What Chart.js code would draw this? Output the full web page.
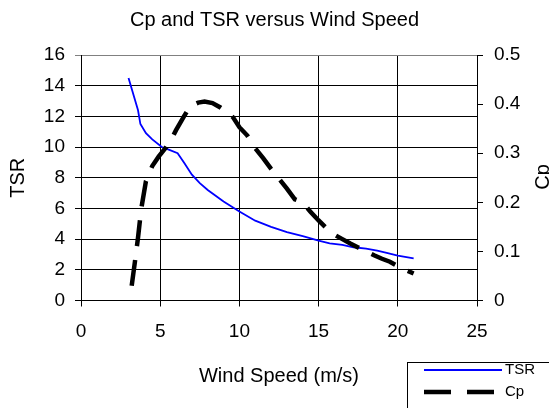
<!DOCTYPE html>
<html>
<head>
<meta charset="utf-8">
<script src="https://cdn.jsdelivr.net/npm/chart.js@4/dist/chart.umd.min.js"></script>
<style>
  html, body { margin: 0; padding: 0; background: #fff; }
  #wrap { position: relative; width: 549px; height: 408px; }
</style>
</head>
<body>
<div id="wrap"><canvas id="cpTsrChart" width="549" height="408"></canvas></div>
<script>
const FONT = "'Liberation Sans', Arial, sans-serif";

// TSR curve (left axis)
const tsrWind = [3.0, 3.6, 3.75, 4.1, 4.5, 5.1, 5.5, 6.1, 6.5, 7.0, 7.5, 8.0, 9.0, 10.0, 11.0, 12.0, 13.0, 14.0, 15.0, 15.7, 16.5, 17.2, 18.0, 18.7, 19.3, 20.0, 21.0];
const tsrValues = [14.5, 12.4, 11.5, 10.9, 10.5, 10.0, 9.85, 9.6, 9.0, 8.2, 7.65, 7.2, 6.45, 5.8, 5.2, 4.8, 4.45, 4.2, 3.9, 3.73, 3.62, 3.47, 3.38, 3.25, 3.1, 2.92, 2.75];

// Cp curve (right axis)
const cpWind = [3.2, 3.4, 3.6, 3.8, 4.1, 4.5, 4.9, 5.3, 5.7, 6.0, 6.5, 6.9, 7.4, 7.8, 8.3, 8.8, 9.3, 9.6, 10.0, 10.5, 11.0, 11.5, 12.0, 12.5, 13.0, 13.5, 14.0, 14.5, 15.0, 15.5, 16.0, 16.5, 17.0, 17.5, 18.0, 18.5, 19.0, 19.5, 20.0, 20.5, 21.0];
const cpValues = [0.03, 0.078, 0.128, 0.186, 0.243, 0.274, 0.293, 0.309, 0.328, 0.347, 0.375, 0.396, 0.403, 0.405, 0.402, 0.393, 0.382, 0.373, 0.353, 0.336, 0.31, 0.29, 0.268, 0.248, 0.228, 0.206, 0.2, 0.18, 0.163, 0.147, 0.134, 0.125, 0.116, 0.108, 0.1, 0.092, 0.085, 0.079, 0.07, 0.062, 0.055];

const xTicks = [0, 5, 10, 15, 20, 25];
const tsrTicks = [0, 2, 4, 6, 8, 10, 12, 14, 16];
const cpTicks = [0, 0.1, 0.2, 0.3, 0.4, 0.5];

const toPoints = (xs, ys) => xs.map((x, i) => ({ x: x, y: ys[i] }));

// right-hand axis title (reads bottom to top) and the boxed legend
const extras = {
    id: 'extras',
    afterDraw(chart) {
        const ctx = chart.ctx;
        ctx.save();
        ctx.fillStyle = '#000';
        ctx.font = '20px ' + FONT;
        ctx.textAlign = 'center';
        ctx.textBaseline = 'middle';
        ctx.translate(543, 177);
        ctx.rotate(-Math.PI / 2);
        ctx.fillText('Cp', 0, 0);
        ctx.restore();

        ctx.save();
        ctx.strokeStyle = '#000';
        ctx.lineWidth = 1;
        ctx.strokeRect(407.5, 362.5, 150, 60);
        ctx.strokeStyle = '#0000ff';
        ctx.lineWidth = 2;
        ctx.beginPath();
        ctx.moveTo(424, 370);
        ctx.lineTo(502, 370);
        ctx.stroke();
        ctx.strokeStyle = '#000';
        ctx.lineWidth = 4.5;
        ctx.setLineDash([27, 16]);
        ctx.beginPath();
        ctx.moveTo(424, 392);
        ctx.lineTo(495, 392);
        ctx.stroke();
        ctx.setLineDash([]);
        ctx.fillStyle = '#000';
        ctx.font = '15px ' + FONT;
        ctx.textAlign = 'left';
        ctx.textBaseline = 'middle';
        ctx.fillText('TSR', 505, 370);
        ctx.fillText('Cp', 505, 392);
        ctx.restore();
    }
};

new Chart(document.getElementById('cpTsrChart'), {
    type: 'line',
    data: {
        datasets: [
            {
                label: 'TSR',
                data: toPoints(tsrWind, tsrValues),
                yAxisID: 'y',
                borderColor: '#0000ff',
                borderWidth: 1.8,
                pointRadius: 0,
                tension: 0,
                order: 1
            },
            {
                label: 'Cp',
                data: toPoints(cpWind, cpValues),
                yAxisID: 'y1',
                borderColor: '#000000',
                borderWidth: 4.5,
                borderDash: [26, 14],
                pointRadius: 0,
                tension: 0,
                order: 0
            }
        ]
    },
    options: {
        responsive: false,
        animation: false,
        layout: { padding: 0 },
        plugins: {
            legend: { display: false },
            tooltip: { enabled: false },
            title: {
                display: true,
                text: 'Cp and TSR versus Wind Speed',
                color: '#000',
                font: { family: FONT, size: 20, weight: 'normal' },
                padding: { top: 8, bottom: 23 }
            }
        },
        scales: {
            x: {
                type: 'linear',
                min: 0,
                max: 25,
                afterBuildTicks: s => { s.ticks = xTicks.map(v => ({ value: v })); },
                afterFit: s => { s.height = 107.5; },
                ticks: { color: '#000', font: { family: FONT, size: 19 }, padding: 14 },
                grid: { color: '#000', lineWidth: 1, tickLength: 6 },
                border: { color: '#000', width: 1 },
                title: {
                    display: true,
                    text: 'Wind Speed (m/s)',
                    color: '#000',
                    font: { family: FONT, size: 20 },
                    padding: { top: 0, bottom: 20 }
                }
            },
            y: {
                position: 'left',
                min: 0,
                max: 16,
                afterBuildTicks: s => { s.ticks = tsrTicks.map(v => ({ value: v })); },
                afterFit: s => { s.width = 81; },
                ticks: { color: '#000', font: { family: FONT, size: 19 }, padding: 10 },
                grid: {
                    color: c => (c.tick && c.tick.value === 16 ? '#808080' : '#000'),
                    lineWidth: 1,
                    tickLength: 6
                },
                border: { color: '#000', width: 1 },
                title: {
                    display: true,
                    text: 'TSR',
                    color: '#000',
                    font: { family: FONT, size: 20 },
                    padding: { top: 6, bottom: 0 }
                }
            },
            y1: {
                position: 'right',
                min: 0,
                max: 0.5,
                afterBuildTicks: s => { s.ticks = cpTicks.map(v => ({ value: v })); },
                afterFit: s => { s.width = 72; },
                ticks: {
                    color: '#000',
                    font: { family: FONT, size: 19 },
                    padding: 11,
                    callback: v => String(Math.round(v * 10) / 10)
                },
                grid: { drawOnChartArea: false, color: '#000', tickLength: 6 },
                border: { color: '#000', width: 1 }
            }
        }
    },
    plugins: [extras]
});
</script>
</body>
</html>
